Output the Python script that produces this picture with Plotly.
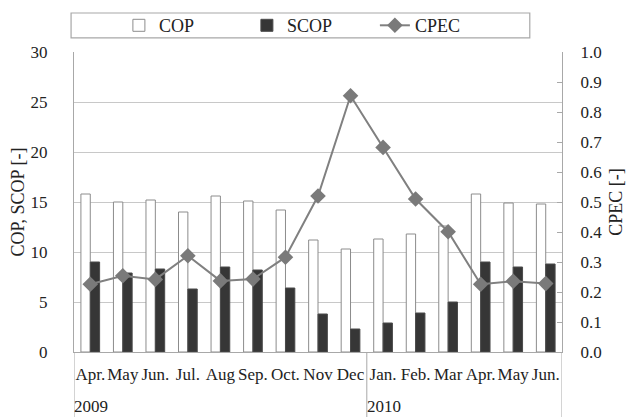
import plotly.graph_objects as go

months = ["Apr.", "May", "Jun.", "Jul.", "Aug", "Sep.", "Oct.", "Nov", "Dec",
          "Jan.", "Feb.", "Mar", "Apr.", "May", "Jun."]
years = ["2009", "2010"]
year_start_index = [0, 9]
cop = [15.8, 15.0, 15.2, 14.0, 15.6, 15.1, 14.2, 11.2, 10.3, 11.3, 11.8, 12.6, 15.8, 14.9, 14.8]
scop = [9.0, 7.9, 8.3, 6.3, 8.5, 8.2, 6.4, 3.8, 2.3, 2.9, 3.9, 5.0, 9.0, 8.5, 8.8]
cpec = [0.226, 0.254, 0.242, 0.321, 0.237, 0.243, 0.316, 0.52, 0.854, 0.682, 0.51, 0.401, 0.226, 0.236, 0.228]

x = list(range(len(months)))
FONT = "Liberation Serif, Times New Roman, serif"
GRID = "#c8c8c8"
LINE = "#a8a8a8"

fig = go.Figure()
fig.add_trace(go.Bar(x=x, y=cop, name="COP", marker=dict(color="white", line=dict(color="#8c8c8c", width=1))))
fig.add_trace(go.Bar(x=x, y=scop, name="SCOP", marker=dict(color="#363636", line=dict(color="#4a4a4a", width=1))))
fig.add_trace(go.Scatter(x=x, y=cpec, name="CPEC", yaxis="y2", mode="lines+markers",
                         line=dict(color="#808080", width=2),
                         marker=dict(symbol="diamond", size=12, color="#7a7a7a")))

# divider lines of the category axis
for xv in [-0.5, 8.5, 14.5]:
    fig.add_shape(type="line", xref="x", yref="paper", x0=xv, x1=xv, y0=0, y1=-0.23,
                  line=dict(color=LINE, width=1))
for yr, i in zip(years, year_start_index):
    fig.add_annotation(x=i - 0.5, y=-0.183, xref="x", yref="paper", text=yr, showarrow=False,
                       xanchor="left", yanchor="middle", xshift=-2,
                       font=dict(family=FONT, size=17, color="#222"))

# legend frame
fig.add_shape(type="rect", xref="paper", yref="paper", x0=-0.006, x1=0.934, y0=1.047, y1=1.13,
              line=dict(color="#a8a8a8", width=1.2), fillcolor="rgba(0,0,0,0)")

fig.update_layout(
    width=627, height=409,
    margin=dict(l=66, r=73, t=44, b=65, autoexpand=False),
    paper_bgcolor="white", plot_bgcolor="white",
    font=dict(family=FONT, size=17, color="#222"),
    barmode="group", bargap=0.425, bargroupgap=0,
    showlegend=True,
    legend=dict(orientation="h", x=0.092, y=1.088, xanchor="left", yanchor="middle",
                entrywidth=83, entrywidthmode="pixels", itemwidth=30,
                font=dict(family=FONT, size=18, color="#222"), bgcolor="rgba(0,0,0,0)",
                tracegroupgap=0),
    xaxis=dict(range=[-0.5, 14.5], tickmode="array", tickvals=x, ticktext=months,
               tickangle=0, showgrid=False, showline=True, linecolor=LINE, ticks="",
               zeroline=False, ticklabelstandoff=7, tickfont=dict(size=17)),
    yaxis=dict(range=[0, 30], dtick=5, showgrid=True, gridcolor=GRID, showline=True,
               linecolor=LINE, ticks="", zeroline=False, ticklabelstandoff=22,
               title=dict(text="COP, SCOP [-]", standoff=8, font=dict(size=18))),
    yaxis2=dict(range=[0, 1], dtick=0.1, tickformat=".1f", overlaying="y", side="right",
                showgrid=False, showline=True, linecolor=LINE, ticks="inside", ticklen=5,
                tickcolor=LINE, zeroline=False, ticklabelstandoff=14,
                title=dict(text="CPEC [-]", standoff=8, font=dict(size=18))),
)

fig.write_html("out.html")
